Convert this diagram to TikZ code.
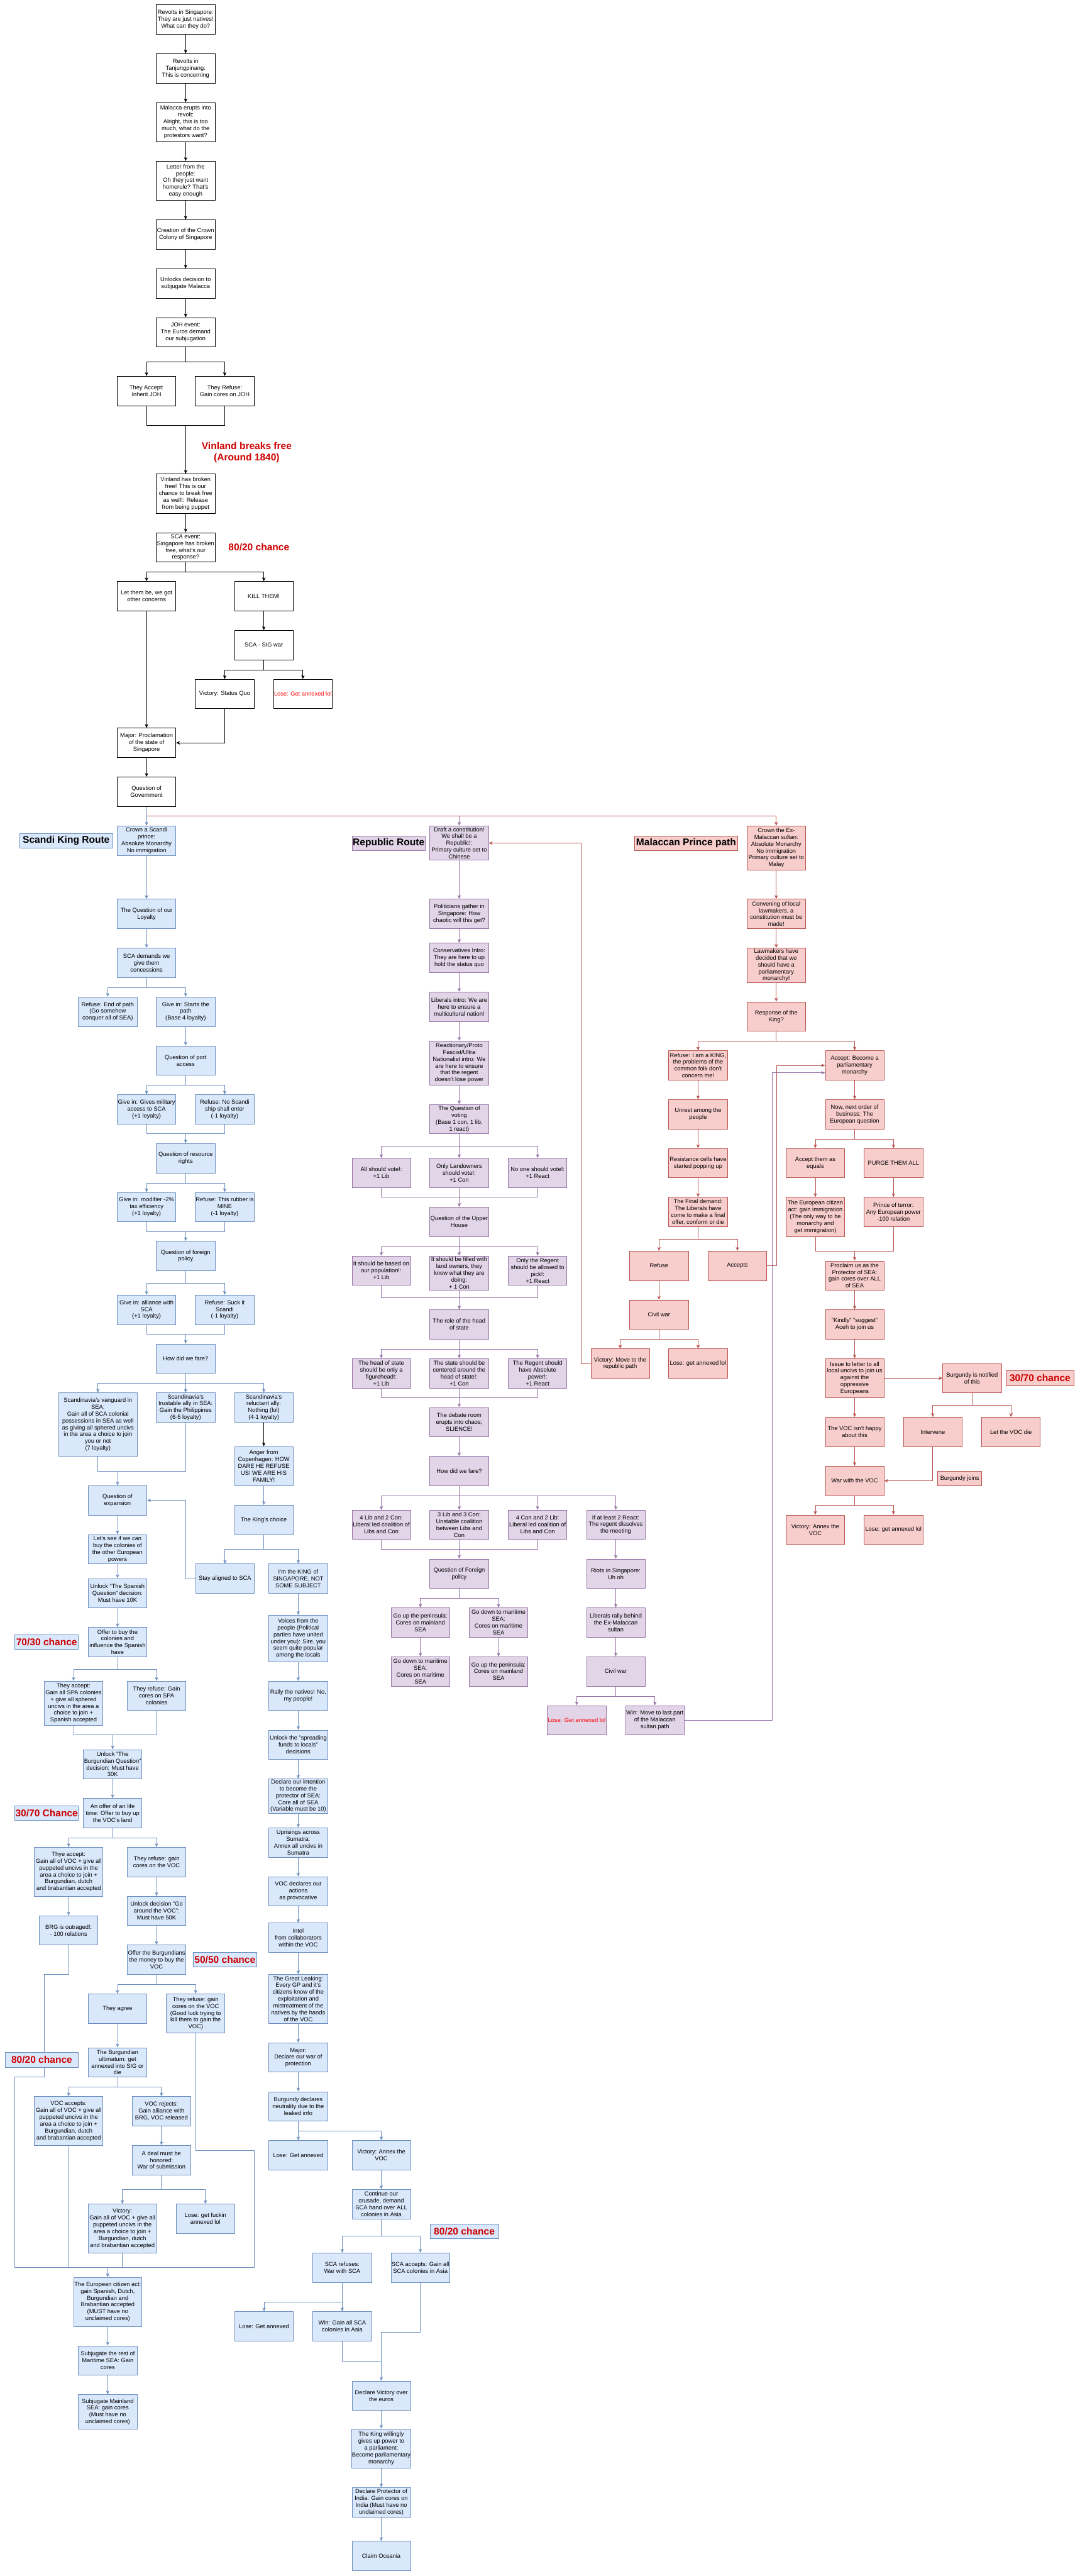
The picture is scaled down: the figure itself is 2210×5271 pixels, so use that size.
\documentclass[tikz,border=0pt]{standalone}
\usepackage{fontspec}
\setmainfont{Liberation Sans}
\usetikzlibrary{arrows.meta}
\definecolor{cskfill}{HTML}{DAE8FC}
\definecolor{cskline}{HTML}{6C8EBF}
\definecolor{crpfill}{HTML}{E1D5E7}
\definecolor{crpline}{HTML}{9673A6}
\definecolor{cmpfill}{HTML}{F8CECC}
\definecolor{cmpline}{HTML}{B85450}
\definecolor{cchance}{HTML}{CC0000}
\definecolor{close}{HTML}{FF0000}

\begin{document}
\begin{tikzpicture}[x=1pt,y=-1pt,line width=1pt,>={Stealth[length=8pt,width=7pt]},
  box/.style={draw,minimum width=120pt,minimum height=60pt,inner xsep=0.5pt,inner ysep=0pt,align=center,font=\fontsize{12}{14}\selectfont},
  bk/.style={box,fill=white},
  sk/.style={box,draw=cskline,fill=cskfill},
  rp/.style={box,draw=crpline,fill=crpfill},
  mp/.style={box,draw=cmpline,fill=cmpfill},
  chance/.style={draw,minimum height=30pt,inner sep=0pt,text=cchance,font=\fontsize{20}{24}\selectfont\bfseries},
  route/.style={draw,minimum height=30pt,inner sep=0pt,font=\fontsize{20}{24}\selectfont\bfseries}]
\useasboundingbox (0,0) rectangle (2210,5271);
% opening events
\node[bk] (rev1) at (380,40) {Revolts in Singapore:\\They are just natives!\\What can they do?};
\node[bk] (rev2) at (380,140) {Revolts in\\Tanjungpinang:\\This is concerning};
\node[bk,minimum height=80pt] (mal) at (380,250) {Malacca erupts into\\revolt:\\Alright, this is too\\much, what do the\\protestors want?};
\node[bk,minimum height=80pt] (letter) at (380,370) {Letter from the\\people:\\Oh they just want\\homerule? That's\\easy enough};
\node[bk] (colony) at (380,480) {Creation of the Crown\\Colony of Singapore};
\node[bk] (subj) at (380,580) {Unlocks decision to\\subjugate Malacca};
\node[bk] (joh) at (380,680) {JOH event:\\The Euros demand\\our subjugation};
\node[bk] (accjoh) at (300,800) {They Accept:\\Inherit JOH};
\node[bk] (refjoh) at (460,800) {They Refuse:\\Gain cores on JOH};
\node[bk,minimum height=80pt] (vin) at (380,1010) {Vinland has broken\\free! This is our\\chance to break free\\as well!: Release\\from being puppet};
\node[text=cchance,align=center,font=\fontsize{20}{24}\selectfont\bfseries] (vinnote) at (505,926) {Vinland breaks free\\(Around 1840)};
\node[bk] (scaev) at (380,1120) {SCA event:\\Singapore has broken\\free, what's our\\response?};
\node[text=cchance,font=\fontsize{20}{24}\selectfont\bfseries] (chtop) at (530,1120) {80/20 chance};
\node[bk] (letbe) at (300,1220) {Let them be, we got\\other concerns};
\node[bk] (kill) at (540,1220) {KILL THEM!};
\node[bk] (sigwar) at (540,1320) {SCA - SIG war};
\node[bk] (quo) at (460,1420) {Victory: Status Quo};
\node[bk,text=close] (annexed) at (620,1420) {Lose: Get annexed lol};
\node[bk] (procl) at (300,1520) {Major: Proclamation\\of the state of\\Singapore};
\node[bk] (qgov) at (300,1620) {Question of\\Government};
% route titles
\node[route,draw=cskline,fill=cskfill,minimum width=190pt] (skroute) at (135.5,1720) {Scandi King Route};
\node[route,draw=crpline,fill=crpfill,minimum width=150pt] (rproute) at (795.5,1725.5) {Republic Route};
\node[route,draw=cmpline,fill=cmpfill,minimum width=210pt] (mproute) at (1404.5,1725.5) {Malaccan Prince path};
% scandi king route
\node[sk] (skcrown) at (300,1720) {Crown a Scandi\\prince:\\Absolute Monarchy\\No immigration};
\node[sk] (skloy) at (300,1870) {The Question of our\\Loyalty};
\node[sk] (skdem) at (300,1970) {SCA demands we\\give them\\concessions};
\node[sk] (skend) at (220.5,2070) {Refuse: End of path\\(Go somehow\\conquer all of SEA)};
\node[sk] (skstart) at (380,2070) {Give in: Starts the\\path\\(Base 4 loyalty)};
\node[sk] (skport) at (380,2170) {Question of port\\access};
\node[sk] (skmil) at (300,2270) {Give in: Gives military\\access to SCA\\(+1 loyalty)};
\node[sk] (skship) at (460,2270) {Refuse: No Scandi\\ship shall enter\\(-1 loyalty)};
\node[sk] (skres) at (380,2370) {Question of resource\\rights};
\node[sk] (sktax) at (300,2470) {Give in: modifier -2\%\\tax efficiency\\(+1 loyalty)};
\node[sk] (skrub) at (460,2470) {Refuse: This rubber is\\MINE\\(-1 loyalty)};
\node[sk] (skfor) at (380,2570) {Question of foreign\\policy};
\node[sk] (skally) at (300,2680) {Give in: alliance with\\SCA\\(+1 loyalty)};
\node[sk] (sksuck) at (460,2680) {Refuse: Suck it\\Scandi\\(-1 loyalty)};
\node[sk] (skfare) at (380,2780) {How did we fare?};
\node[sk,minimum width=160pt,minimum height=130pt] (skvan) at (200.5,2915) {Scandinavia's vanguard in\\SEA:\\Gain all of SCA colonial\\possessions in SEA as well\\as giving all sphered uncivs\\in the area a choice to join\\you or not\\(7 loyalty)};
\node[sk] (sktrust) at (380,2880) {Scandinavia's\\trustable ally in SEA:\\Gain the Philippines\\(6-5 loyalty)};
\node[sk] (skrel) at (540,2880) {Scandinavia's\\reluctant ally:\\Nothing (lol)\\(4-1 loyalty)};
\node[sk,minimum height=80pt] (skanger) at (540,3000) {Anger from\\Copenhagen: HOW\\DARE HE REFUSE\\US! WE ARE HIS\\FAMILY!};
\node[sk] (skqexp) at (240.5,3070) {Question of\\expansion};
\node[sk] (skking) at (540,3110) {The King's choice};
\node[sk] (skstay) at (460.5,3230) {Stay aligned to SCA};
\node[sk] (skiking) at (610.5,3230) {I'm the KING of\\SINGAPORE, NOT\\SOME SUBJECT};
\node[sk] (skbuy) at (240.5,3170) {Let's see if we can\\buy the colonies of\\the other European\\powers};
\node[sk] (skspan) at (240.5,3260) {Unlock "The Spanish\\Question" decision:\\Must have 10K};
\node[sk] (skoffer) at (240.5,3360) {Offer to buy the\\colonies and\\influence the Spanish\\have};
\node[chance,draw=cskline,fill=cskfill,minimum width=130pt] (ch7030) at (95.5,3360) {70/30 chance};
\node[sk,minimum height=90pt] (skspacc) at (150.5,3485) {They accept:\\Gain all SPA colonies\\+ give all sphered\\uncivs in the area a\\choice to join +\\Spanish accepted};
\node[sk] (skspref) at (320.5,3470) {They refuse: Gain\\cores on SPA\\colonies};
\node[sk] (skburq) at (230.5,3610) {Unlock "The\\Burgundian Question"\\decision: Must have\\30K};
\node[chance,draw=cskline,fill=cskfill,minimum width=130pt] (ch3070) at (95.5,3710) {30/70 Chance};
\node[sk] (skoffer2) at (230.5,3710) {An offer of an life\\time: Offer to buy up\\the VOC's land};
\node[sk,minimum width=140pt,minimum height=100pt] (skthye) at (140.5,3830) {Thye accept:\\Gain all of VOC + give all\\puppeted uncivs in the\\area a choice to join +\\Burgundian, dutch\\and brabantian accepted};
\node[sk] (skvocref) at (320.5,3810) {They refuse: gain\\cores on the VOC};
\node[sk] (skbrg) at (140.5,3950) {BRG is outraged!:\\- 100 relations};
\node[sk] (skaround) at (320.5,3910) {Unlock decision "Go\\around the VOC":\\Must have 50K};
\node[sk] (skoffbur) at (320.5,4010) {Offer the Burgundians\\the money to buy the\\VOC};
\node[chance,draw=cskline,fill=cskfill,minimum width=130pt] (ch5050) at (460.5,4010) {50/50 chance};
\node[sk] (skagree) at (240.5,4110) {They agree};
\node[sk,minimum height=80pt] (skluck) at (400.5,4120) {They refuse: gain\\cores on the VOC\\(Good luck trying to\\kill them to gain the\\VOC)};
\node[sk] (skult) at (240.5,4220) {The Burgundian\\ultimatum: get\\annexed into SIG or\\die};
\node[sk,minimum width=140pt,minimum height=100pt] (skvacc) at (140.5,4340) {VOC accepts:\\Gain all of VOC + give all\\puppeted uncivs in the\\area a choice to join +\\Burgundian, dutch\\and brabantian accepted};
\node[sk] (skvrej) at (330.5,4320) {VOC rejects:\\Gain alliance with\\BRG, VOC released};
\node[sk] (skdeal) at (330.5,4420) {A deal must be\\honored:\\War of submission};
\node[sk,minimum width=140pt,minimum height=100pt] (skvsub) at (250.5,4560) {Victory:\\Gain all of VOC + give all\\puppeted uncivs in the\\area a choice to join +\\Burgundian, dutch\\and brabantian accepted};
\node[sk] (sklsub) at (420.5,4540) {Lose: get fuckin\\annexed lol};
\node[sk,minimum width=140pt,minimum height=100pt] (skeuro) at (220.5,4710) {The European citizen act:\\gain Spanish, Dutch,\\Burgundian and\\Brabantian accepted\\(MUST have no\\unclaimed cores)};
\node[sk] (skmari) at (220.5,4830) {Subjugate the rest of\\Maritime SEA: Gain\\cores};
\node[sk,minimum height=70pt] (skmain) at (220.5,4935) {Subjugate Mainland\\SEA: gain cores\\(Must have no\\unclaimed cores)};
% the king's own way
\node[sk,minimum height=95pt] (skvoice) at (610.5,3352.5) {Voices from the\\people (Political\\parties have united\\under you): Sire, you\\seem quite popular\\among the locals};
\node[sk] (skrally) at (610.5,3470) {Rally the natives! No,\\my people!};
\node[sk] (skfunds) at (610.5,3570) {Unlock the "spreading\\funds to locals"\\decisions};
\node[sk,minimum height=70pt] (skdecl) at (610.5,3675) {Declare our intention\\to become the\\protector of SEA:\\Core all of SEA\\(Variable must be 10)};
\node[sk] (skupr) at (610.5,3770) {Uprisings across\\Sumatra:\\Annex all uncivs in\\Sumatra};
\node[sk] (skvocd) at (610.5,3870) {VOC declares our\\actions\\as provocative};
\node[sk] (skintel) at (610.5,3965) {Intel\\from collaborators\\within the VOC};
\node[sk,minimum height=100pt] (skleak) at (610.5,4090) {The Great Leaking:\\Every GP and it's\\citizens know of the\\exploitation and\\mistreatment of the\\natives by the hands\\of the VOC};
\node[sk] (skmajor) at (610.5,4210) {Major:\\Declare our war of\\protection};
\node[sk] (skneut) at (610.5,4310) {Burgundy declares\\neutrality due to the\\leaked info};
\node[sk] (sklosek) at (610.5,4410) {Lose: Get annexed};
\node[sk] (skannex) at (780.5,4410) {Victory: Annex the\\VOC};
\node[sk] (skcrus) at (780.5,4510) {Continue our\\crusade, demand\\SCA hand over ALL\\colonies in Asia};
\node[chance,draw=cskline,fill=cskfill,minimum width=140pt] (ch8020b) at (950.5,4566) {80/20 chance};
\node[sk] (skscaref) at (700.5,4640) {SCA refuses:\\War with SCA};
\node[sk] (skscaacc) at (860.5,4640) {SCA accepts: Gain all\\SCA colonies in Asia};
\node[sk] (sklosesca) at (540.5,4760) {Lose: Get annexed};
\node[sk] (skwinsca) at (700.5,4760) {Win: Gain all SCA\\colonies in Asia};
\node[sk] (skdeclv) at (780.5,4902) {Declare Victory over\\the euros};
\node[sk,minimum height=80pt] (skkingw) at (780.5,5010) {The King willingly\\gives up power to\\a parliament:\\Become parliamentary\\monarchy};
\node[sk] (skindia) at (780.5,5120) {Declare Protector of\\India: Gain cores on\\India (Must have no\\unclaimed cores)};
\node[sk] (skocean) at (780.5,5230) {Claim Oceania};
% republic route
\node[rp,minimum height=70pt] (rpdraft) at (940,1725) {Draft a constitution!\\We shall be a\\Republic!:\\Primary culture set to\\Chinese};
\node[rp] (rppol) at (940,1870) {Politicians gather in\\Singapore: How\\chaotic will this get?};
\node[rp] (rpcon) at (940,1960) {Conservatives Intro:\\They are here to up\\hold the status quo};
\node[rp] (rplib) at (940,2060) {Liberals intro: We are\\here to ensure a\\multicultural nation!};
\node[rp,minimum height=90pt] (rpreact) at (940,2175) {Reactionary/Proto\\Fascist/Ultra\\Nationalist intro: We\\are here to ensure\\that the regent\\doesn't lose power};
\node[rp] (rpvote) at (940,2290) {The Question of\\voting\\(Base 1 con, 1 lib,\\1 react)};
\node[rp] (rpall) at (780.5,2400) {All should vote!:\\+1 Lib};
\node[rp] (rpland) at (940,2400) {Only Landowners\\should vote!:\\+1 Con};
\node[rp] (rpnone) at (1100.5,2400) {No one should vote!:\\+1 React};
\node[rp] (rpupper) at (940,2500) {Question of the Upper\\House};
\node[rp] (rppop) at (780.5,2600) {It should be based on\\our population!:\\+1 Lib};
\node[rp,minimum height=70pt] (rpfill) at (940,2605) {It should be filled with\\land owners, they\\know what they are\\doing:\\+ 1 Con};
\node[rp] (rpreg) at (1100.5,2600) {Only the Regent\\should be allowed to\\pick!:\\+1 React};
\node[rp] (rprole) at (940,2710) {The role of the head\\of state};
\node[rp] (rpfig) at (780.5,2810) {The head of state\\should be only a\\figurehead!:\\+1 Lib};
\node[rp] (rpcent) at (940,2810) {The state should be\\centered around the\\head of state!:\\+1 Con};
\node[rp] (rpabs) at (1100.5,2810) {The Regent should\\have Absolute\\power!:\\+1 React};
\node[rp] (rpdeb) at (940,2910) {The debate room\\erupts into chaos;\\SLIENCE!};
\node[rp] (rpfare) at (940,3010) {How did we fare?};
\node[rp] (rplibled) at (780.5,3120) {4 Lib and 2 Con:\\Liberal led coalition of\\Libs and Con};
\node[rp] (rpunst) at (940,3120) {3 Lib and 3 Con:\\Unstable coalition\\between Libs and\\Con};
\node[rp] (rpconled) at (1100.5,3120) {4 Con and 2 Lib:\\Liberal led coalition of\\Libs and Con};
\node[rp] (rpdiss) at (1260.5,3120) {If at least 2 React:\\The regent dissolves\\the meeting};
\node[rp] (rpfor) at (940,3220) {Question of Foreign\\policy};
\node[rp] (rpup1) at (860.5,3320) {Go up the peninsula:\\Cores on mainland\\SEA};
\node[rp] (rpdown1) at (1020.5,3320) {Go down to maritime\\SEA:\\Cores on maritime\\SEA};
\node[rp] (rpdown2) at (860.5,3420) {Go down to maritime\\SEA:\\Cores on maritime\\SEA};
\node[rp] (rpup2) at (1020.5,3420) {Go up the peninsula:\\Cores on mainland\\SEA};
\node[rp] (rpriot) at (1260.5,3220) {Riots in Singapore:\\Uh oh};
\node[rp] (rprally) at (1260.5,3320) {Liberals rally behind\\the Ex-Malaccan\\sultan};
\node[rp] (rpcivil) at (1260.5,3420) {Civil war};
\node[rp,text=close] (rplose) at (1180.5,3520) {Lose: Get annexed lol};
\node[rp] (rpwin) at (1340.5,3520) {Win: Move to last part\\of the Malaccan\\sultan path};
% malaccan prince path
\node[mp,minimum height=90pt] (mpcrown) at (1589,1735) {Crown the Ex-\\Malaccan sultan:\\Absolute Monarchy\\No immigration\\Primary culture set to\\Malay};
\node[mp] (mpconv) at (1589,1870) {Convening of local\\lawmakers, a\\constitution must be\\made!};
\node[mp,minimum height=70pt] (mplaw) at (1589,1975) {Lawmakers have\\decided that we\\should have a\\parliamentary\\monarchy!};
\node[mp] (mpresp) at (1589,2080) {Response of the\\King?};
\node[mp] (mpref) at (1429,2180) {Refuse: I am a KING,\\the problems of the\\common folk don't\\concern me!};
\node[mp] (mpacc) at (1749.5,2180) {Accept: Become a\\parliamentary\\monarchy};
\node[mp] (mpunrest) at (1429,2280) {Unrest among the\\people};
\node[mp] (mpnext) at (1749.5,2280) {Now, next order of\\business: The\\European question};
\node[mp] (mpcells) at (1429,2380) {Resistance cells have\\started popping up};
\node[mp] (mpequal) at (1669,2380) {Accept them as\\equals};
\node[mp] (mppurge) at (1829,2380) {PURGE THEM ALL};
\node[mp] (mpfinal) at (1429,2480) {The Final demand:\\The Liberals have\\come to make a final\\offer, conform or die};
\node[mp,minimum height=80pt] (mpeuro) at (1669,2490) {The European citizen\\act: gain immigration\\(The only way to be\\monarchy and\\get immigration)};
\node[mp] (mpterror) at (1829,2480) {Prince of terror:\\Any European power\\-100 relation};
\node[mp] (mpno) at (1349,2590) {Refuse};
\node[mp] (mpyes) at (1509.5,2590) {Accepts};
\node[mp] (mpprot) at (1749.5,2610) {Proclaim us as the\\Protector of SEA:\\gain cores over ALL\\of SEA};
\node[mp] (mpcivil) at (1349,2690) {Civil war};
\node[mp] (mpkind) at (1749.5,2710) {"Kindly" "suggest"\\Aceh to join us};
\node[mp] (mpvicrep) at (1269.5,2790) {Victory: Move to the\\republic path};
\node[mp] (mplose) at (1429,2790) {Lose: get annexed lol};
\node[mp,minimum height=80pt] (mpiss) at (1749.5,2820) {Issue to letter to all\\local uncivs to join us\\against the\\oppressive\\Europeans};
\node[mp] (mpbur) at (1990,2820) {Burgundy is notified\\of this};
\node[chance,draw=cmpline,fill=cmpfill,minimum width=140pt] (ch3070m) at (2129,2820) {30/70 chance};
\node[mp] (mpvoc) at (1749.5,2930) {The VOC isn't happy\\about this};
\node[mp] (mpint) at (1909.5,2930) {Intervene};
\node[mp] (mpdie) at (2069.5,2930) {Let the VOC die};
\node[mp] (mpwar) at (1749.5,3030) {War with the VOC};
\node[mp,minimum width=90pt,minimum height=30pt] (mpjoins) at (1964.5,3025.5) {Burgundy joins};
\node[mp] (mpvicvoc) at (1669,3130) {Victory: Annex the\\VOC};
\node[mp] (mplosevoc) at (1829,3130) {Lose: get annexed lol};
% opening links
\draw[->] (rev1) -- (rev2);
\draw[->] (rev2) -- (mal);
\draw[->] (mal) -- (letter);
\draw[->] (letter) -- (colony);
\draw[->] (colony) -- (subj);
\draw[->] (subj) -- (joh);
\draw[->] (joh.south) -- ++(0,30) -| (accjoh.north);
\draw[->] (joh.south) -- ++(0,30) -| (refjoh.north);
\coordinate (jtop) at (380,870);
\draw (accjoh.south) |- (jtop);
\draw (refjoh.south) |- (jtop);
\draw[->] (jtop) -- (vin.north);
\draw[->] (vin) -- (scaev);
\draw[->] (scaev.south) -- ++(0,20) -| (letbe.north);
\draw[->] (scaev.south) -- ++(0,20) -| (kill.north);
\draw[->] (kill) -- (sigwar);
\draw[->] (sigwar.south) -- ++(0,20) -| (quo.north);
\draw[->] (sigwar.south) -- ++(0,20) -| (annexed.north);
\draw[->] (letbe) -- (procl);
\draw[->] (quo.south) |- (procl.east);
\draw[->] (procl) -- (qgov);
\coordinate (gsplit) at (300,1670);
\draw[->,crpline] (qgov.south) -- (gsplit) -| (rpdraft.north);
\draw[->,cmpline] (gsplit) -| (mpcrown.north);
\draw[->,cskline] (qgov) -- (skcrown);
% scandi links
\draw[->,cskline] (skcrown) -- (skloy);
\draw[->,cskline] (skloy) -- (skdem);
\draw[->,cskline] (skdem.south) -- ++(0,20) -| (skend.north);
\draw[->,cskline] (skdem.south) -- ++(0,20) -| (skstart.north);
\draw[->,cskline] (skstart) -- (skport);
\draw[->,cskline] (skport.south) -- ++(0,20) -| (skmil.north);
\draw[->,cskline] (skport.south) -- ++(0,20) -| (skship.north);
\coordinate (ja) at (380,2320);
\draw[cskline] (skmil.south) |- (ja);
\draw[cskline] (skship.south) |- (ja);
\draw[->,cskline] (ja) -- (skres.north);
\draw[->,cskline] (skres.south) -- ++(0,20) -| (sktax.north);
\draw[->,cskline] (skres.south) -- ++(0,20) -| (skrub.north);
\coordinate (jb) at (380,2520);
\draw[cskline] (sktax.south) |- (jb);
\draw[cskline] (skrub.south) |- (jb);
\draw[->,cskline] (jb) -- (skfor.north);
\draw[->,cskline] (skfor.south) -- ++(0,25) -| (skally.north);
\draw[->,cskline] (skfor.south) -- ++(0,25) -| (sksuck.north);
\coordinate (jc) at (380,2730);
\draw[cskline] (skally.south) |- (jc);
\draw[cskline] (sksuck.south) |- (jc);
\draw[->,cskline] (jc) -- (skfare.north);
\draw[->,cskline] (skfare.south) -- ++(0,20) -| (skvan.north);
\draw[->,cskline] (skfare) -- (sktrust);
\draw[->,cskline] (skfare.south) -- ++(0,20) -| (skrel.north);
\draw[->] (skrel) -- (skanger);
\coordinate (jd) at (240.5,3010);
\draw[cskline] (skvan.south) |- (jd);
\draw[cskline] (sktrust.south) |- (jd);
\draw[->,cskline] (jd) -- (skqexp.north);
\draw[->,cskline] (skanger) -- (skking);
\draw[->,cskline] (skking.south) -- ++(0,30) -| (skstay.north);
\draw[->,cskline] (skking.south) -- ++(0,30) -| (skiking.north);
\draw[->,cskline] (skstay.west) -- ++(-20,0) |- (skqexp.east);
\draw[->,cskline] (skqexp) -- (skbuy);
\draw[->,cskline] (skbuy) -- (skspan);
\draw[->,cskline] (skspan) -- (skoffer);
\draw[->,cskline] (skoffer.south) -- ++(0,25) -| (skspacc.north);
\draw[->,cskline] (skoffer.south) -- ++(0,25) -| (skspref.north);
\coordinate (je) at (230.5,3550);
\draw[cskline] (skspacc.south) |- (je);
\draw[cskline] (skspref.south) |- (je);
\draw[->,cskline] (je) -- (skburq.north);
\draw[->,cskline] (skburq) -- (skoffer2);
\draw[->,cskline] (skoffer2.south) -- ++(0,20) -| (skthye.north);
\draw[->,cskline] (skoffer2.south) -- ++(0,20) -| (skvocref.north);
\draw[->,cskline] (skthye) -- (skbrg);
\draw[->,cskline] (skvocref) -- (skaround);
\draw[->,cskline] (skaround) -- (skoffbur);
\draw[->,cskline] (skoffbur.south) -- ++(0,20) -| (skagree.north);
\draw[->,cskline] (skoffbur.south) -- ++(0,20) -| (skluck.north);
\draw[->,cskline] (skagree) -- (skult);
\draw[->,cskline] (skult.south) -- ++(0,20) -| (skvacc.north);
\draw[->,cskline] (skult.south) -- ++(0,20) -| (skvrej.north);
\draw[->,cskline] (skvrej) -- (skdeal);
\draw[->,cskline] (skdeal.south) -- ++(0,30) -| (skvsub.north);
\draw[->,cskline] (skdeal.south) -- ++(0,30) -| (sklsub.north);
\coordinate (jeu) at (220.5,4640);
\draw[cskline] (skbrg.south) |- (90,4040) |- (30,4250) |- (jeu);
\draw[cskline] (skvacc.south) -- (skvacc.south |- jeu);
\draw[cskline] (skvsub.south) -- (skvsub.south |- jeu);
\draw[cskline] (skluck.south) |- (520.5,4400) |- (jeu);
\draw[->,cskline] (jeu) -- (skeuro.north);
\draw[->,cskline] (skeuro) -- (skmari);
\draw[->,cskline] (skmari) -- (skmain);
% the king's links
\draw[->,cskline] (skiking) -- (skvoice);
\draw[->,cskline] (skvoice) -- (skrally);
\draw[->,cskline] (skrally) -- (skfunds);
\draw[->,cskline] (skfunds) -- (skdecl);
\draw[->,cskline] (skdecl) -- (skupr);
\draw[->,cskline] (skupr) -- (skvocd);
\draw[->,cskline] (skvocd) -- (skintel);
\draw[->,cskline] (skintel) -- (skleak);
\draw[->,cskline] (skleak) -- (skmajor);
\draw[->,cskline] (skmajor) -- (skneut);
\draw[->,cskline] (skneut) -- (sklosek);
\draw[->,cskline] (skneut.south) -- ++(0,20) -| (skannex.north);
\draw[->,cskline] (skannex) -- (skcrus);
\draw[->,cskline] (skcrus.south) -- ++(0,35) -| (skscaref.north);
\draw[->,cskline] (skcrus.south) -- ++(0,35) -| (skscaacc.north);
\draw[->,cskline] (skscaref.south) -- ++(0,40) -| (sklosesca.north);
\draw[->,cskline] (skscaref) -- (skwinsca);
\coordinate (jw) at (780.5,4831);
\coordinate (jx) at (780.5,4771.5);
\draw[cskline] (skwinsca.south) |- (jw);
\draw[->,cskline] (skscaacc.south) |- (jx) -- (skdeclv.north);
\draw[->,cskline] (skdeclv) -- (skkingw);
\draw[->,cskline] (skkingw) -- (skindia);
\draw[->,cskline] (skindia) -- (skocean);
% republic links
\draw[->,crpline] (rpdraft) -- (rppol);
\draw[->,crpline] (rppol) -- (rpcon);
\draw[->,crpline] (rpcon) -- (rplib);
\draw[->,crpline] (rplib) -- (rpreact);
\draw[->,crpline] (rpreact) -- (rpvote);
\draw[->,crpline] (rpvote.south) -- ++(0,25) -| (rpall.north);
\draw[->,crpline] (rpvote) -- (rpland);
\draw[->,crpline] (rpvote.south) -- ++(0,25) -| (rpnone.north);
\coordinate (jv) at (940,2450);
\draw[crpline] (rpall.south) |- (jv);
\draw[crpline] (rpnone.south) |- (jv);
\draw[->,crpline] (rpland) -- (rpupper);
\draw[->,crpline] (rpupper.south) -- ++(0,20) -| (rppop.north);
\draw[->,crpline] (rpupper) -- (rpfill);
\draw[->,crpline] (rpupper.south) -- ++(0,20) -| (rpreg.north);
\coordinate (jh) at (940,2655);
\draw[crpline] (rppop.south) |- (jh);
\draw[crpline] (rpreg.south) |- (jh);
\draw[->,crpline] (rpfill) -- (rprole);
\draw[->,crpline] (rprole.south) -- ++(0,20) -| (rpfig.north);
\draw[->,crpline] (rprole) -- (rpcent);
\draw[->,crpline] (rprole.south) -- ++(0,20) -| (rpabs.north);
\coordinate (jr) at (940,2860);
\draw[crpline] (rpfig.south) |- (jr);
\draw[crpline] (rpabs.south) |- (jr);
\draw[->,crpline] (rpcent) -- (rpdeb);
\draw[->,crpline] (rpdeb) -- (rpfare);
\draw[->,crpline] (rpfare.south) -- ++(0,20) -| (rplibled.north);
\draw[->,crpline] (rpfare) -- (rpunst);
\draw[->,crpline] (rpfare.south) -- ++(0,20) -| (rpconled.north);
\draw[->,crpline] (rpfare.south) -- ++(0,20) -| (rpdiss.north);
\coordinate (jf) at (940,3170);
\draw[crpline] (rplibled.south) |- (jf);
\draw[crpline] (rpconled.south) |- (jf);
\draw[->,crpline] (rpunst) -- (rpfor);
\draw[->,crpline] (rpfor.south) -- ++(0,20) -| (rpup1.north);
\draw[->,crpline] (rpfor.south) -- ++(0,20) -| (rpdown1.north);
\draw[->,crpline] (rpup1) -- (rpdown2);
\draw[->,crpline] (rpdown1) -- (rpup2);
\draw[->,crpline] (rpdiss) -- (rpriot);
\draw[->,crpline] (rpriot) -- (rprally);
\draw[->,crpline] (rprally) -- (rpcivil);
\draw[->,crpline] (rpcivil.south) -- ++(0,20) -| (rplose.north);
\draw[->,crpline] (rpcivil.south) -- ++(0,20) -| (rpwin.north);
\coordinate (pjoin) at (1580.5,2195);
\draw[->,crpline] (rpwin.east) -| (pjoin) -- (pjoin -| mpacc.west);
% malaccan links
\draw[->,cmpline] (mpcrown) -- (mpconv);
\draw[->,cmpline] (mpconv) -- (mplaw);
\draw[->,cmpline] (mplaw) -- (mpresp);
\draw[->,cmpline] (mpresp.south) -- ++(0,20) -| (mpref.north);
\draw[->,cmpline] (mpresp.south) -- ++(0,20) -| (mpacc.north);
\draw[->,cmpline] (mpref) -- (mpunrest);
\draw[->,cmpline] (mpunrest) -- (mpcells);
\draw[->,cmpline] (mpcells) -- (mpfinal);
\draw[->,cmpline] (mpacc) -- (mpnext);
\draw[->,cmpline] (mpnext.south) -- ++(0,20) -| (mpequal.north);
\draw[->,cmpline] (mpnext.south) -- ++(0,20) -| (mppurge.north);
\draw[->,cmpline] (mpequal) -- (mpeuro);
\draw[->,cmpline] (mppurge) -- (mpterror);
\coordinate (jm) at (1749.5,2560);
\draw[cmpline] (mpeuro.south) |- (jm);
\draw[cmpline] (mpterror.south) |- (jm);
\draw[->,cmpline] (jm) -- (mpprot.north);
\draw[->,cmpline] (mpfinal.south) -- ++(0,25) -| (mpno.north);
\draw[->,cmpline] (mpfinal.south) -- ++(0,25) -| (mpyes.north);
\draw[->,cmpline] (mpyes.east) -- ++(19.5,0) |- (mpacc.west);
\draw[->,cmpline] (mpno) -- (mpcivil);
\draw[->,cmpline] (mpcivil.south) -- ++(0,20) -| (mpvicrep.north);
\draw[->,cmpline] (mpcivil.south) -- ++(0,20) -| (mplose.north);
\draw[->,cmpline] (mpvicrep.west) -- ++(-19,0) |- (rpdraft.east);
\draw[->,cmpline] (mpprot) -- (mpkind);
\draw[->,cmpline] (mpkind) -- (mpiss);
\draw[->,cmpline] (mpiss) -- (mpbur);
\draw[->,cmpline] (mpiss) -- (mpvoc);
\draw[->,cmpline] (mpbur.south) -- ++(0,25) -| (mpint.north);
\draw[->,cmpline] (mpbur.south) -- ++(0,25) -| (mpdie.north);
\draw[->,cmpline] (mpvoc) -- (mpwar);
\draw[->,cmpline] (mpint.south) |- (mpwar.east);
\draw[->,cmpline] (mpwar.south) -- ++(0,20) -| (mpvicvoc.north);
\draw[->,cmpline] (mpwar.south) -- ++(0,20) -| (mplosevoc.north);
% label over the brg line
\node[chance,draw=cskline,fill=cskfill,minimum width=150pt] (ch8020l) at (85.5,4215) {80/20 chance};
\end{tikzpicture}
\end{document}
